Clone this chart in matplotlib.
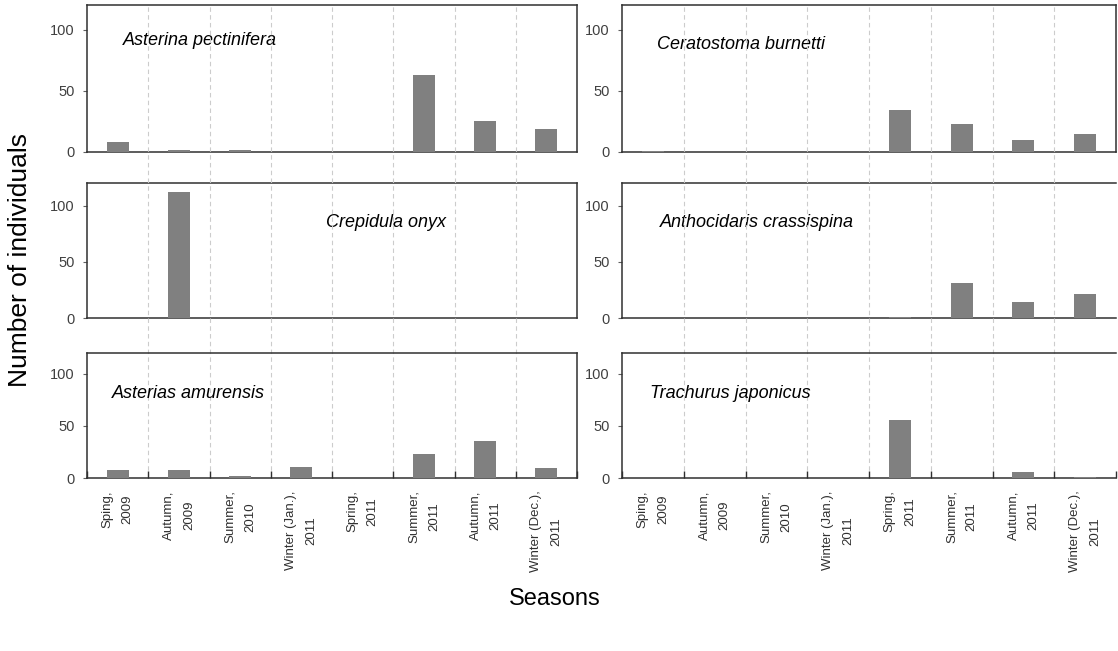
import numpy as np
import matplotlib
matplotlib.use("Agg")
import matplotlib.pyplot as plt
import matplotlib.transforms as mtransforms

plt.rcParams['font.family'] = ['Liberation Sans', 'DejaVu Sans']

# seasons (x categories)
seasons = ["Sping,\n2009", "Autumn,\n2009", "Summer,\n2010", "Winter (Jan.),\n2011",
           "Spring,\n2011", "Summer,\n2011", "Autumn,\n2011", "Winter (Dec.),\n2011"]

# number of individuals per species
asterina = [8, 2, 2, 0, 0, 63, 25, 19]
ceratostoma = [1, 0, 0, 0, 34, 23, 10, 15]
crepidula = [0, 112, 0, 0, 0, 0, 0, 0]
anthocidaris = [0, 0, 0, 0, 1, 31, 14, 21]
asterias = [8, 8, 1.5, 11, 0, 23, 36, 9.5]
trachurus = [0, 0, 0, 0, 56, 0, 6, 1.3]

panels = [
    ("Asterina pectinifera", asterina),
    ("Ceratostoma burnetti", ceratostoma),
    ("Crepidula onyx", crepidula),
    ("Anthocidaris crassispina", anthocidaris),
    ("Asterias amurensis", asterias),
    ("Trachurus japonicus", trachurus),
]
# label placement in axes fraction
label_pos = [(0.073, 0.76), (0.071, 0.73), (0.488, 0.71),
             (0.077, 0.71), (0.051, 0.68), (0.057, 0.68)]

W, H = 1118, 651
fig = plt.figure(figsize=(W / 100, H / 100), dpi=100)

cols = [(87, 490), (622, 494)]
rows = [(5, 152), (183, 318), (353, 478)]

x = np.arange(len(seasons))
bounds = np.arange(len(seasons) + 1) - 0.5
axes = []
for i, (name, vals) in enumerate(panels):
    r, c = divmod(i, 2)
    x0, w = cols[c]
    top, bot = rows[r]
    ax = fig.add_axes([x0 / W, (H - bot) / H, w / W, (bot - top) / H])
    axes.append(ax)
    ax.bar(x, vals, width=0.36, color="#808080", zorder=3)
    ax.set_xlim(-0.5, len(seasons) - 0.5)
    ax.set_ylim(0, 120)
    ax.set_yticks([0, 50, 100])
    ax.tick_params(axis="y", direction="out", length=3, width=0.8, color="#606060",
                   labelsize=10.5, labelcolor="#404040", pad=6)
    for s in ax.spines.values():
        s.set_color("#303030")
        s.set_linewidth(1.1)
    if c == 1 and r > 0:
        ax.spines["right"].set_visible(False)
    ax.text(label_pos[i][0], label_pos[i][1], name, transform=ax.transAxes,
            style="italic", fontsize=13, va="center", ha="left")
    ax.set_xticks(bounds, minor=True)
    if r == 2:
        ax.set_xticks(x)
        ax.set_xticklabels(seasons, rotation=90, fontsize=9.5, color="#303030",
                           linespacing=1.9, va="top")
        ax.tick_params(axis="x", which="major", length=0, pad=9)
        ax.tick_params(axis="x", which="minor", direction="in", length=5, width=1, color="#303030")
    else:
        ax.set_xticks([])
        ax.tick_params(axis="x", which="minor", length=0)

# dashed separators spanning each column
for c in range(2):
    ax = axes[4 + c]
    trans = mtransforms.blended_transform_factory(ax.transData, fig.transFigure)
    for b in bounds[1:-1]:
        ax.plot([b, b], [(H - 478) / H, (H - 5) / H], transform=trans, clip_on=False,
                color="#cccccc", lw=0.8, ls=(0, (4, 3)), zorder=0)

fig.text(20 / W, 1 - 260 / H, "Number of individuals", rotation=90, fontsize=19,
         va="center", ha="center")
fig.text(555 / W, 1 - 599 / H, "Seasons", fontsize=17, va="center", ha="center")

fig.savefig("out.png", dpi=100)
